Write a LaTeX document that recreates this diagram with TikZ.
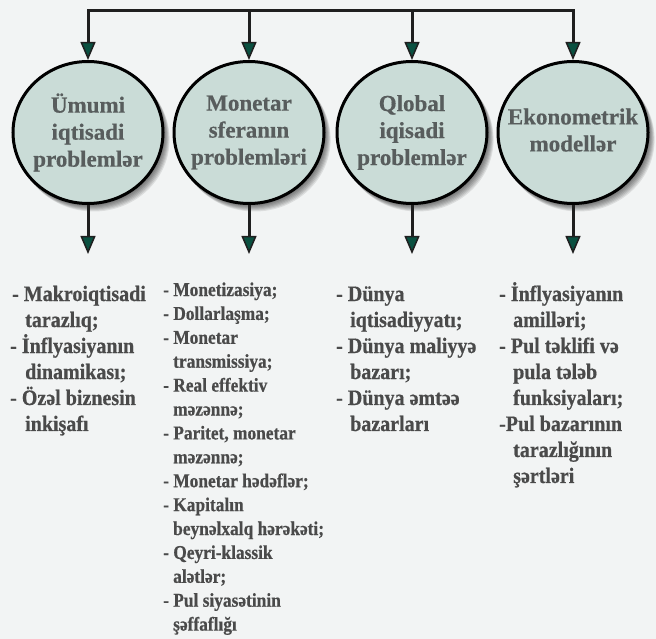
\documentclass[tikz,border=0pt]{standalone}
\usepackage{fontspec}
\setmainfont{Liberation Serif}[BoldFeatures={FakeBold=0.5}]
\newfontfamily\listfont{Liberation Serif}[FakeStretch=0.91,BoldFeatures={FakeBold=0.6}]
\newfontfamily\smalllistfont{Liberation Serif}[FakeStretch=0.89,BoldFeatures={FakeBold=0.6}]
\usetikzlibrary{arrows.meta,shapes.geometric}
\newcommand\tightlines{\lineskiplimit=-100pt\relax}
\definecolor{bg}{HTML}{F2F4F4}
\definecolor{circfill}{HTML}{CADCD7}
\definecolor{tipgreen}{HTML}{0A5040}
\definecolor{txt}{HTML}{4A4A4A}
\definecolor{ctxt}{HTML}{585D5D}
\tikzset{
  bubble/.style={ellipse, draw=black, line width=3pt, fill=circfill,
    minimum width=150pt, minimum height=142pt, inner xsep=-15pt, inner ysep=0pt,
    align=center, text=ctxt, font=\bfseries\fontsize{23}{27}\selectfont},
  conn/.style={line width=3pt, draw=black!88, line join=miter,
    -{Triangle[width=15pt,length=18pt,line width=1.5pt,fill=tipgreen]}},
  conn2/.style={line width=3pt, draw=black!88, line join=miter,
    {Triangle[width=15pt,length=18pt,line width=1.5pt,fill=tipgreen]}-{Triangle[width=15pt,length=18pt,line width=1.5pt,fill=tipgreen]}},
  listtxt/.style={anchor=base west, inner sep=0pt, text=txt,
    font=\listfont\bfseries\fontsize{22}{26}\selectfont\tightlines},
  smalllisttxt/.style={anchor=base west, inner sep=0pt, text=txt,
    font=\smalllistfont\bfseries\fontsize{19.5}{23.9}\selectfont\tightlines},
  shadowlayer/.style={fill=black, opacity=0.09}
}
\begin{document}
\begin{tikzpicture}[x=1pt,y=-1pt]
  \path[use as bounding box, fill=bg] (0,0) rectangle (656,639);
  % shadows
  \foreach \cx in {88,249,412,573}{
    \foreach \d in {1,2,...,7}{
      \fill[shadowlayer] (\cx+\d*0.8,132.5+\d) ellipse [x radius=76pt, y radius=72pt];
    }
  }
  % bubbles
  \node[bubble] (c1) at (88,132.5) {Ümumi\\iqtisadi\\problemlər};
  \node[bubble] (c2) at (249,132.5) {Monetar\\sferanın\\problemləri};
  \node[bubble] (c3) at (412,132.5) {Qlobal\\iqisadi\\problemlər};
  \node[bubble] (c4) at (573,132.5) {\raisebox{2.5pt}{\begin{tabular}{@{}c@{}}Ekonometrik\\modellər\end{tabular}}};
  % top connectors
  \coordinate (t1) at (c1.north |- 0,11);
  \coordinate (t2) at (c2.north |- 0,11);
  \coordinate (t3) at (c3.north |- 0,11);
  \coordinate (t4) at (c4.north |- 0,11);
  \draw[conn2] (c1.north) -- (t1) -- (t4) -- (c4.north);
  \draw[conn] (t2) -- (c2.north);
  \draw[conn] (t3) -- (c3.north);
  % bottom connectors
  \coordinate (b1) at (c1.south |- 0,254);
  \coordinate (b2) at (c2.south |- 0,254);
  \coordinate (b3) at (c3.south |- 0,254);
  \coordinate (b4) at (c4.south |- 0,254);
  \draw[conn] (c1.south) -- (b1);
  \draw[conn] (c2.south) -- (b2);
  \draw[conn] (c3.south) -- (b3);
  \draw[conn] (c4.south) -- (b4);
  % lists
  \node[listtxt] (l1) at (10,301) {\vtop{%
    \hbox{\hspace*{2pt}- Makroiqtisadi}%
    \hbox{\hspace*{15pt}tarazlıq;}%
    \hbox{- İnflyasiyanın}%
    \hbox{\hspace*{15pt}dinamikası;}%
    \hbox{- Özəl biznesin}%
    \hbox{\hspace*{15pt}inkişafı}}};
  \node[smalllisttxt] (l2) at (163,296) {\vtop{%
    \hbox{- Monetizasiya;}%
    \hbox{- Dollarlaşma;}%
    \hbox{- Monetar}%
    \hbox{\hspace*{10pt}transmissiya;}%
    \hbox{- Real effektiv}%
    \hbox{\hspace*{10pt}məzənnə;}%
    \hbox{- Paritet, monetar}%
    \hbox{\hspace*{10pt}məzənnə;}%
    \hbox{- Monetar hədəflər;}%
    \hbox{- Kapitalın}%
    \hbox{\hspace*{10pt}beynəlxalq hərəkəti;}%
    \hbox{- Qeyri-klassik}%
    \hbox{\hspace*{10pt}alətlər;}%
    \hbox{- Pul siyasətinin}%
    \hbox{\hspace*{10pt}şəffaflığı}}};
  \node[listtxt] (l3) at (336,301) {\vtop{%
    \hbox{- Dünya}%
    \hbox{\hspace*{14pt}iqtisadiyyatı;}%
    \hbox{- Dünya maliyyə}%
    \hbox{\hspace*{14pt}bazarı;}%
    \hbox{- Dünya əmtəə}%
    \hbox{\hspace*{14pt}bazarları}}};
  \node[listtxt] (l4) at (499,301) {\vtop{%
    \hbox{- İnflyasiyanın}%
    \hbox{\hspace*{14pt}amilləri;}%
    \hbox{- Pul təklifi və}%
    \hbox{\hspace*{14pt}pula tələb}%
    \hbox{\hspace*{14pt}funksiyaları;}%
    \hbox{-Pul bazarının}%
    \hbox{\hspace*{14pt}tarazlığının}%
    \hbox{\hspace*{14pt}şərtləri}}};
\end{tikzpicture}
\end{document}
